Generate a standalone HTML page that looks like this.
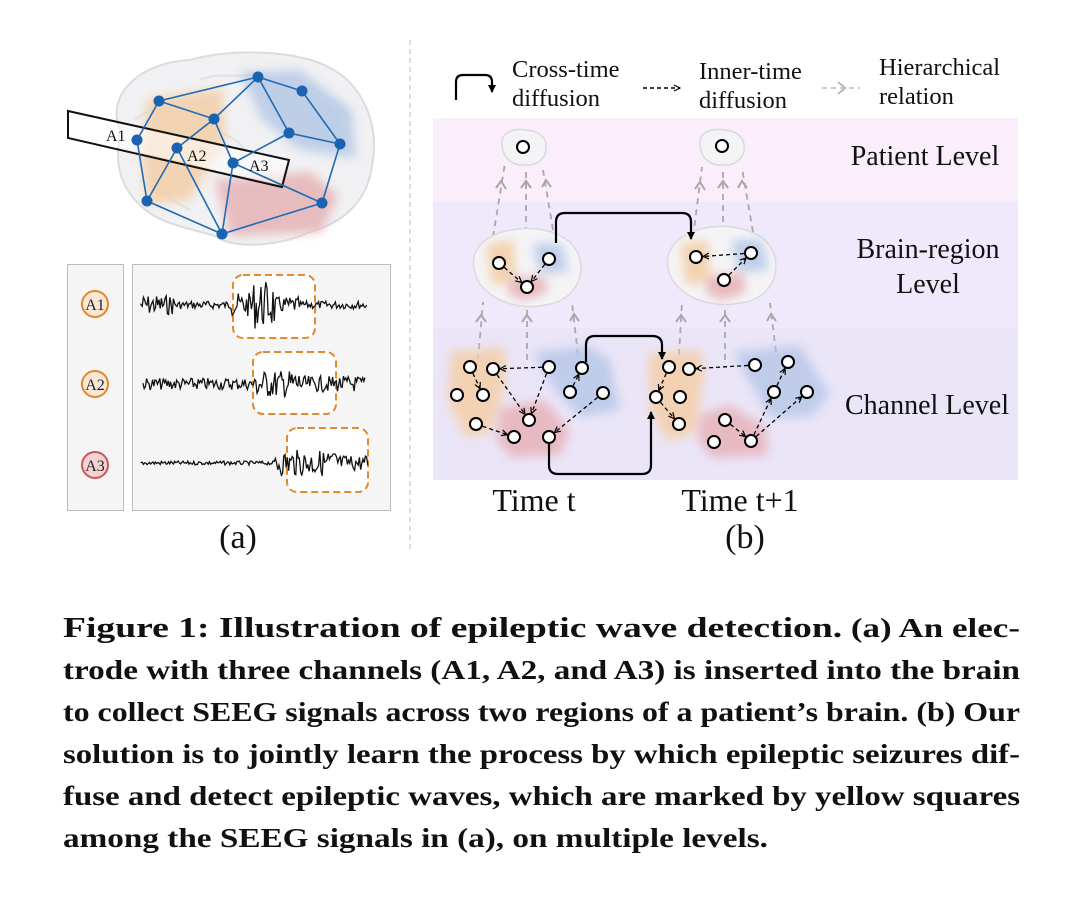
<!DOCTYPE html>
<html><head><meta charset="utf-8">
<style>
html,body{margin:0;padding:0;background:#fff;}
svg{display:block;}
</style></head>
<body>
<svg id="s" width="1080" height="897" viewBox="0 0 1080 897" xmlns="http://www.w3.org/2000/svg" font-family="'Liberation Serif',serif">
<defs>
<marker id="ab" markerWidth="8" markerHeight="8" refX="7" refY="4" orient="auto" markerUnits="userSpaceOnUse"><path d="M0,0 L8,4 L0,8 z" fill="#000"/></marker>
<marker id="ad" markerWidth="7" markerHeight="7" refX="6" refY="3.5" orient="auto" markerUnits="userSpaceOnUse"><path d="M0,0.5 L6,3.5 L0,6.5" fill="none" stroke="#000" stroke-width="1.2"/></marker>
<filter id="bl" x="-30%" y="-30%" width="160%" height="160%"><feGaussianBlur stdDeviation="5"/></filter>
</defs>

<!-- ===== LEFT: brain ===== -->
<path d="M120,130 C105,95 140,62 190,60 C230,48 300,50 330,68 C365,85 380,130 372,165 C368,200 345,222 310,232 C280,246 235,250 215,236 C190,228 160,225 140,205 C118,185 115,160 120,130 Z" fill="#f1f1f3" stroke="#dcdce0" stroke-width="2"/>
<path d="M135,120 C150,105 170,112 180,100 M200,80 C220,70 240,82 260,70 M300,80 C320,95 340,100 350,120 M140,180 C160,190 170,200 190,210 M250,220 C270,230 300,230 320,220 M200,120 C215,135 230,130 245,150" stroke="#e2e2e6" stroke-width="2" fill="none"/>
<g filter="url(#bl)" opacity="0.85">
<path d="M148,98 L222,88 L226,140 L190,200 L148,205 L140,150 Z" fill="#f3cfa8"/>
<path d="M240,72 L300,70 L352,110 L356,158 L300,150 L262,120 Z" fill="#b7c9e6"/>
<path d="M215,180 L310,172 L338,195 L322,232 L230,236 Z" fill="#e6b3b6"/>
</g>
<polygon points="68,111 289,160 282,187 68,138" fill="none" stroke="#111" stroke-width="2"/>
<polygon points="70,113 287,161 281,185 70,136" fill="rgba(255,255,255,0.55)"/>
<g stroke="#1f6bb5" stroke-width="1.6" fill="none">
<path d="M258,77 L302,91 L340,144 L322,203 M258,77 L159,101 L214,119 L258,77 M258,77 L289,133 L340,144 M289,133 L233,163 M159,101 L137,140 L147,201 M214,119 L177,148 L147,201 M214,119 L233,163 L222,234 M177,148 L222,234 M233,163 L322,203 M147,201 L222,234 L322,203"/>
</g>
<g fill="#1a63b0">
<circle cx="258" cy="77" r="5.5"/><circle cx="302" cy="91" r="5.5"/><circle cx="159" cy="101" r="5.5"/><circle cx="214" cy="119" r="5.5"/><circle cx="289" cy="133" r="5.5"/><circle cx="340" cy="144" r="5.5"/><circle cx="137" cy="140" r="5.5"/><circle cx="177" cy="148" r="5.5"/><circle cx="233" cy="163" r="5.5"/><circle cx="147" cy="201" r="5.5"/><circle cx="322" cy="203" r="5.5"/><circle cx="222" cy="234" r="5.5"/>
</g>
<g font-size="16" fill="#111"><text x="106" y="141">A1</text><text x="187" y="161">A2</text><text x="249" y="171">A3</text></g>

<!-- signal panels -->
<rect x="67.5" y="264.5" width="56" height="246" fill="#f5f5f5" stroke="#bbb"/>
<rect x="132.5" y="264.5" width="258" height="246" fill="#f5f5f5" stroke="#bbb"/>
<g font-size="16" fill="#222" text-anchor="middle">
<circle cx="95" cy="304" r="13" fill="#fbe7d6" stroke="#e08a30" stroke-width="2"/><text x="95" y="310">A1</text>
<circle cx="95" cy="384" r="13" fill="#fbe7d6" stroke="#e08a30" stroke-width="2"/><text x="95" y="390">A2</text>
<circle cx="95" cy="465" r="13" fill="#f4d3d4" stroke="#c65b5b" stroke-width="2"/><text x="95" y="471">A3</text>
</g>
<g fill="#fff" stroke="#e3892e" stroke-width="2" stroke-dasharray="7,4">
<rect x="233" y="275" width="82" height="63" rx="10"/>
<rect x="253" y="352" width="83" height="62" rx="10"/>
<rect x="287" y="428" width="81" height="64" rx="10"/>
</g>
<g id="sig" fill="none" stroke="#111" stroke-width="1.3"></g>
<text x="238" y="548" font-size="34" text-anchor="middle" fill="#111">(a)</text>

<line x1="410" y1="40" x2="410" y2="552" stroke="#bbb" stroke-width="1" stroke-dasharray="5,4"/>

<!-- ===== RIGHT ===== -->
<rect x="433" y="46" width="585" height="72" fill="#fff"/>
<rect x="433" y="118" width="585" height="84" fill="#f9eefa"/>
<rect x="433" y="202" width="585" height="126" fill="#f0e9fb"/>
<rect x="433" y="328" width="585" height="152" fill="#ebe5f8"/>

<!-- legend -->
<path d="M456,100 L456,82 Q456,75 463,75 L485,75 Q492,75 492,82 L492,92" fill="none" stroke="#000" stroke-width="2.2" marker-end="url(#ab)"/>
<line x1="643" y1="88" x2="680" y2="88" stroke="#000" stroke-width="1.6" stroke-dasharray="4,3" marker-end="url(#ad)"/>
<line x1="822" y1="88" x2="860" y2="88" stroke="#b8b8b8" stroke-width="1.6" stroke-dasharray="5,4"/>
<path d="M838,82 L845,88 L838,94" fill="none" stroke="#b8b8b8" stroke-width="2"/>
<g font-size="24.5" fill="#111">
<text x="512" y="77">Cross-time</text><text x="512" y="106">diffusion</text>
<text x="699" y="79">Inner-time</text><text x="699" y="108">diffusion</text>
<text x="879" y="75">Hierarchical</text><text x="879" y="104">relation</text>
<text x="925" y="165" font-size="28" text-anchor="middle">Patient Level</text>
<text x="928" y="258" font-size="28" text-anchor="middle">Brain-region</text>
<text x="928" y="293" font-size="28" text-anchor="middle">Level</text>
<text x="927" y="414" font-size="28" text-anchor="middle">Channel Level</text>
<text x="534" y="511" font-size="32" text-anchor="middle">Time t</text>
<text x="740" y="511" font-size="32" text-anchor="middle">Time t+1</text>
<text x="745" y="548" font-size="34" text-anchor="middle">(b)</text>
</g>

<!-- hierarchical gray lines -->
<g stroke="#a8a8a8" stroke-width="1.8" stroke-dasharray="6,5" fill="none">
<path d="M493,237 L505,163 M526,233 L526,172 M553,230 L543,170"/>
<path d="M693,237 L702,167 M723,233 L723,172 M753,232 L742,168"/>
<path d="M478,360 L483,302 M527,360 L527,307 M578,355 L572,303"/>
<path d="M679,355 L682,302 M725,360 L725,307 M776,352 L770,303"/>
</g>
<g stroke="#a8a8a8" stroke-width="2" fill="none">
<path d="M496,188 L501,181 L506,189 M521,188 L526,181 L531,188 M542,187 L546,180 L551,187"/>
<path d="M695,189 L700,182 L705,190 M718,188 L723,181 L728,188 M738,188 L742,181 L747,188"/>
<path d="M476,322 L481,315 L486,322 M522,322 L527,315 L532,322 M570,321 L574,314 L579,321"/>
<path d="M676,322 L681,315 L686,322 M720,322 L725,315 L730,322 M767,321 L771,314 L776,321"/>
</g>

<!-- patient brains -->
<g fill="#f4f4f6" stroke="#dadade" stroke-width="1.5">
<path d="M502,145 C500,132 515,128 525,130 C538,130 548,138 546,150 C545,160 535,166 525,165 C512,166 503,158 502,145Z"/>
<path d="M700,145 C698,132 713,128 723,130 C736,130 746,138 744,150 C743,160 733,166 723,165 C710,166 701,158 700,145Z"/>
<!-- region brains -->
<path d="M474,268 C470,246 490,232 518,229 C545,226 575,236 580,260 C585,285 566,303 545,305 C522,310 500,302 490,294 C480,286 476,280 474,268Z"/>
<path d="M668,268 C664,246 684,230 712,227 C740,224 770,234 775,258 C780,283 762,301 740,303 C716,308 694,300 684,292 C674,284 670,278 668,268Z"/>
</g>
<g filter="url(#bl)" opacity="0.9">
<path d="M486,244 L514,240 L515,282 L492,285 Z" fill="#f3cfa8"/>
<path d="M533,244 L562,244 L568,272 L540,273 Z" fill="#b7c9e6"/>
<path d="M510,278 L544,276 L548,292 L525,300 L508,294 Z" fill="#e6b3b6"/>
<path d="M680,244 L708,240 L710,282 L686,285 Z" fill="#f3cfa8"/>
<path d="M732,240 L762,240 L768,270 L738,272 Z" fill="#b7c9e6"/>
<path d="M708,276 L742,273 L746,292 L722,300 L706,294 Z" fill="#e6b3b6"/>
</g>

<!-- channel blobs -->
<g opacity="0.85" filter="url(#bl)">
<path d="M450,352 L505,347 L505,385 L490,433 L465,437 L448,400 Z" fill="#f4cfa8" />
<path d="M533,352 L590,346 L610,360 L620,410 L580,417 L555,390 Z" fill="#b8c8e8"/>
<path d="M500,408 L545,400 L570,432 L560,455 L510,457 L497,440 Z" fill="#e7b2b8"/>
<path d="M648,354 L700,350 L704,378 L695,432 L668,442 L650,410 Z" fill="#f4cfa8"/>
<path d="M733,352 L800,345 L830,395 L812,416 L770,418 Z" fill="#b8c8e8"/>
<path d="M700,415 L730,405 L766,428 L768,455 L712,458 L698,440 Z" fill="#e7b2b8"/>
</g>

<!-- cross-time arrows -->
<g fill="none" stroke="#000" stroke-width="2.2">
<path d="M556,243 L556,222 Q556,213 565,213 L682,213 Q691,213 691,222 L691,239" marker-end="url(#ab)"/>
<path d="M586,362 L586,345 Q586,336 595,336 L652,336 Q662,336 662,345 L662,359" marker-end="url(#ab)"/>
<path d="M549,443 L549,465 Q549,474 558,474 L642,474 Q651,474 651,465 L651,412" marker-end="url(#ab)"/>
</g>

<g id="arr" fill="none" stroke="#000" stroke-width="1.3" stroke-dasharray="4,3"></g>
<g id="nodes" fill="#fff" stroke="#000" stroke-width="2"></g>

<!-- caption -->
<g font-family="'Liberation Serif',serif" font-weight="bold" fill="#111" font-size="27">
<text x="63" y="637" textLength="957" lengthAdjust="spacingAndGlyphs"><tspan font-size="29">Figure 1: Illustration of epileptic wave detection.</tspan> (a) An elec-</text>
<text x="63" y="679" textLength="957" lengthAdjust="spacingAndGlyphs">trode with three channels (A1, A2, and A3) is inserted into the brain</text>
<text x="63" y="721" textLength="957" lengthAdjust="spacingAndGlyphs">to collect SEEG signals across two regions of a patient’s brain. (b) Our</text>
<text x="63" y="763" textLength="957" lengthAdjust="spacingAndGlyphs">solution is to jointly learn the process by which epileptic seizures dif-</text>
<text x="63" y="805" textLength="957" lengthAdjust="spacingAndGlyphs">fuse and detect epileptic waves, which are marked by yellow squares</text>
<text x="63" y="847" textLength="705" lengthAdjust="spacingAndGlyphs">among the SEEG signals in (a), on multiple levels.</text>
</g>
</svg>
<script>
(function(){
var NS='http://www.w3.org/2000/svg';
var g=document.getElementById('sig');var seed=7;
function r(){seed=(seed*9301+49297)%233280;return seed/233280-0.5;}
function sig(y,x0,x1,amp){var d='M'+x0+','+y;for(var x=x0;x<=x1;x+=1.2){var a=amp(x);d+=' L'+x.toFixed(1)+','+(y+r()*2*a).toFixed(1);}
var p=document.createElementNS(NS,'path');p.setAttribute('d',d);g.appendChild(p);}
sig(305,141,367,function(x){if(x<175)return 10;if(x<232)return 4;if(x<250)return 12;if(x<275)return 24;if(x<300)return 8;return 4;});
sig(384,143,366,function(x){if(x<255)return 6;if(x<300)return 14;return 8;});
sig(463,141,368,function(x){if(x<275)return 2;if(x<340)return 13;return 8;});
var A=[[470,367,483,395],[549,367,493,369],[493,369,529,420],[549,367,529,420],[570,392,582,368],[603,393,549,437],[476,424,514,437],
[669,367,656,397],[656,397,679,424],[755,365,689,369],[774,392,788,362],[751,441,774,392],[751,441,807,392],[725,420,751,441],
[499,263,527,287],[549,259,527,287],[751,253,696,257],[724,280,751,253]];
var ga=document.getElementById('arr');
A.forEach(function(a){var dx=a[2]-a[0],dy=a[3]-a[1],L=Math.sqrt(dx*dx+dy*dy),ux=dx/L,uy=dy/L;
var l=document.createElementNS(NS,'line');l.setAttribute('x1',a[0]+ux*7);l.setAttribute('y1',a[1]+uy*7);l.setAttribute('x2',a[2]-ux*7);l.setAttribute('y2',a[3]-uy*7);l.setAttribute('marker-end','url(#ad)');ga.appendChild(l);});
var N=[[523,147],[722,146],[499,263],[549,259],[527,287],[696,257],[751,253],[724,280],
[470,367],[493,369],[483,395],[457,395],[476,424],[514,437],[529,420],[549,437],[549,367],[582,368],[570,392],[603,393],
[669,367],[689,369],[656,397],[680,397],[679,424],[755,365],[788,362],[774,392],[807,392],[725,420],[714,442],[751,441]];
var gn=document.getElementById('nodes');
N.forEach(function(n){var c=document.createElementNS(NS,'circle');c.setAttribute('cx',n[0]);c.setAttribute('cy',n[1]);c.setAttribute('r',6);gn.appendChild(c);});
})();
</script>
</body></html>
